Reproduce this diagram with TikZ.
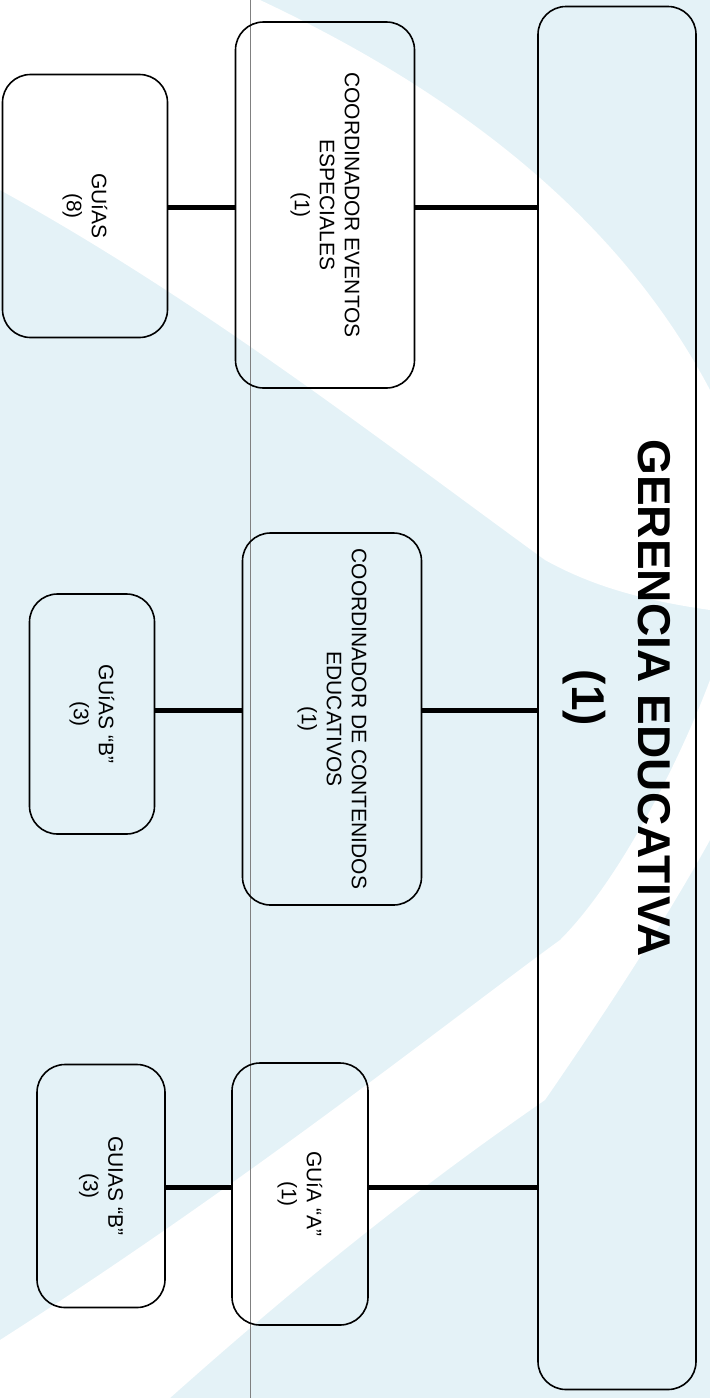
\documentclass[tikz,border=0pt]{standalone}
\usepackage{xcolor}
\usepackage{fontspec}
\setmainfont{Liberation Sans}
\usepackage{tikz}
\usetikzlibrary{positioning}

\definecolor{wash}{RGB}{228,242,247}

\begin{document}
\begin{tikzpicture}[x=1pt, y=-1pt,
    box/.style={draw, rounded corners=28pt, line width=1.6pt, rotate=-90,
        align=center, font=\fontsize{21}{25}\selectfont},
    link/.style={line width=5pt}]

    \useasboundingbox (0,0) rectangle (710,1398);

    % Background wash of the scanned page
    \fill[wash] (0,0) rectangle (710,1398);
    \fill[white] (0,0) -- (260,0) .. controls (430,80) and (610,200) .. (710,390)
        -- (710,610) .. controls (640,600) and (590,585) .. (545,560)
        .. controls (380,440) and (200,300) .. (0,190) -- cycle;
    \fill[white] (0,1340) .. controls (250,1180) and (450,1020) .. (560,940)
        .. controls (620,880) and (680,760) .. (710,680) -- (710,840)
        .. controls (660,930) and (600,1020) .. (545,1100)
        .. controls (400,1200) and (280,1300) .. (170,1398) -- (0,1398) -- cycle;
    \draw[gray, line width=0.6pt] (250,0) -- (250,1398);

    % Top node
    \node[box, minimum width=1383pt, minimum height=158pt,
        font=\fontsize{46}{66}\selectfont\bfseries] (ger) at (617,698)
        {GERENCIA EDUCATIVA\\(1)};

    % Second level
    \node[box, minimum width=366pt, minimum height=179pt] (cee) at (325,205)
        {COORDINADOR EVENTOS\\ESPECIALES\\(1)};
    \node[box, minimum width=372pt, minimum height=179pt] (cce) at (332,719)
        {COORDINADOR DE CONTENIDOS\\EDUCATIVOS\\(1)};
    \node[box, minimum width=262pt, minimum height=136pt] (ga) at (300,1194)
        {GUíA “A”\\(1)};

    % Third level
    \node[box, minimum width=263pt, minimum height=165pt] (g8) at (85,206)
        {GUíAS\\(8)};
    \node[box, minimum width=240pt, minimum height=125pt] (gb1) at (92,714)
        {GUíAS “B”\\(3)};
    \node[box, minimum width=243pt, minimum height=128pt] (gb2) at (101,1186)
        {GUIAS “B”\\(3)};

    % Connections
    \coordinate (j1) at (0,207);
    \coordinate (j2) at (0,710);
    \coordinate (j3) at (0,1187);
    \draw[link] (cee.north |- j1) -- (ger.south |- j1);
    \draw[link] (cce.north |- j2) -- (ger.south |- j2);
    \draw[link] (ga.north |- j3) -- (ger.south |- j3);
    \draw[link] (g8.north |- j1) -- (cee.south |- j1);
    \draw[link] (gb1.north |- j2) -- (cce.south |- j2);
    \draw[link] (gb2.north |- j3) -- (ga.south |- j3);

\end{tikzpicture}
\end{document}
